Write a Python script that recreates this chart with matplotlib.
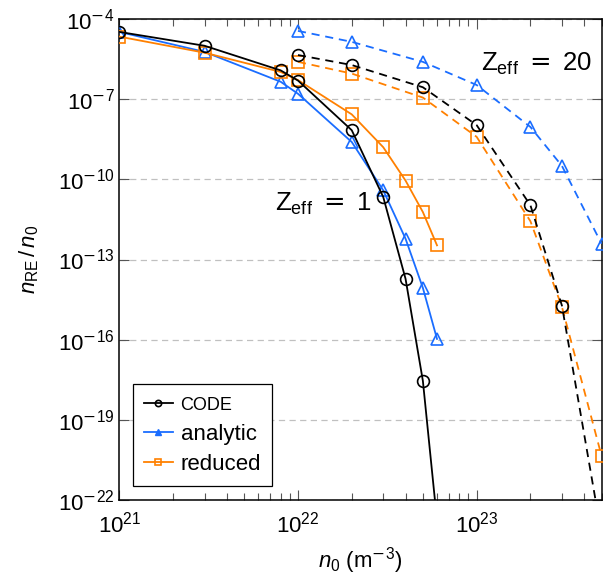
import matplotlib
matplotlib.use("Agg")
import matplotlib.pyplot as plt
import numpy as np
from matplotlib.lines import Line2D
from matplotlib.ticker import FixedLocator, FuncFormatter, LogLocator, NullFormatter, NullLocator

plt.rcParams["font.family"] = "Liberation Sans"
plt.rcParams["mathtext.fontset"] = "custom"
plt.rcParams["mathtext.rm"] = "Liberation Sans"
plt.rcParams["mathtext.it"] = "Liberation Sans:italic"
plt.rcParams["mathtext.bf"] = "Liberation Sans:bold"
# sinais de menos e igual mais largos (estilo TeX)
plt.rcParams["mathtext.cal"] = "DejaVu Sans"

# ------------------------------------------------------------------ dados
# Z_eff = 1 (linhas cheias)
n0_z1 = [1e21, 3e21, 8e21, 1e22, 2e22, 3e22, 4e22, 5e22, 6e22]
code_z1 = [3.3e-5, 1.0e-5, 1.2e-6, 5.0e-7, 6.9e-9, 2.2e-11, 1.9e-14, 2.9e-18, 1.7e-23]
analytic_z1 = [3.3e-5, 5.9e-6, 4.5e-7, 1.6e-7, 2.5e-9, 3.9e-11, 6.0e-13, 8.7e-15, 1.07e-16]
reduced_z1 = [2.2e-5, 5.5e-6, 1.05e-6, 5.2e-7, 2.7e-8, 1.6e-9, 9.0e-11, 6.0e-12, 3.4e-13]

# Z_eff = 20 (linhas tracejadas)
n0_z20 = [1e22, 2e22, 5e22, 1e23, 2e23, 3e23, 5e23]
code_z20 = [4.5e-6, 1.9e-6, 2.8e-7, 1.07e-8, 1.07e-11, 1.9e-15, 5e-24]
analytic_z20 = [3.6e-5, 1.4e-5, 2.5e-6, 3.4e-7, 9.1e-9, 3.2e-10, 3.9e-13]
reduced_z20 = [2.5e-6, 9.1e-7, 1.15e-7, 3.9e-9, 2.7e-12, 1.7e-15, 4.5e-21]

y_ticks = [1e-22, 1e-19, 1e-16, 1e-13, 1e-10, 1e-7, 1e-4]

PRETO = "black"
AZUL = "#1a6dff"
LARANJA = "#ff8000"
TRACO = (0, (4.5, 3.2))


def potencia(v, pos):
    e = int(round(np.log10(v)))
    if e < 0:
        return r"$10^{\mathcal{-}%d}$" % (-e)
    return r"$10^{%d}$" % e


fig = plt.figure(figsize=(6.03, 5.77), dpi=100)
ax = fig.add_axes([0.1978, 0.1334, 0.7998, 0.8336])

estilo = dict(lw=1.3, ms=8.5, mew=1.2, mfc="none", clip_on=True)
ax.plot(n0_z1, code_z1, "-o", color=PRETO, zorder=4, **estilo)
ax.plot(n0_z1, analytic_z1, "-^", color=AZUL, zorder=3, **estilo)
ax.plot(n0_z1, reduced_z1, "-s", color=LARANJA, zorder=3, **estilo)

ax.plot(n0_z20, code_z20, "o", ls=TRACO, color=PRETO, zorder=4, **estilo)
ax.plot(n0_z20, analytic_z20, "^", ls=TRACO, color=AZUL, zorder=3, **estilo)
ax.plot(n0_z20, reduced_z20, "s", ls=TRACO, color=LARANJA, zorder=3, **estilo)

ax.set_xscale("log")
ax.set_yscale("log")
ax.set_xlim(1e21, 5e23)
ax.set_ylim(1e-22, 1e-4)

ax.yaxis.set_major_locator(FixedLocator(y_ticks))
ax.yaxis.set_minor_locator(NullLocator())
ax.yaxis.set_major_formatter(FuncFormatter(potencia))
ax.xaxis.set_major_formatter(FuncFormatter(potencia))
ax.xaxis.set_minor_locator(LogLocator(base=10.0, subs=range(2, 10), numticks=20))
ax.xaxis.set_minor_formatter(NullFormatter())

ax.tick_params(which="both", direction="in", top=True, right=True,
               labelsize=16, width=0.8, color="#555555")
ax.tick_params(which="major", length=7)
ax.tick_params(which="minor", length=4.8)
ax.tick_params(axis="x", pad=8)
for s in ax.spines.values():
    s.set_linewidth(1.1)

ax.yaxis.grid(True, which="major", ls=(0, (5, 3.5)), color="#c0c0c0", lw=0.9)
ax.set_axisbelow(True)

ax.set_xlabel(r"$n_0$ (m$^{\mathcal{-}3}$)", fontsize=16, labelpad=6)
ax.set_ylabel(r"$n_{\rm RE}\,/\,n_0$", fontsize=16, labelpad=12)

ax.text(10**21.87, 10**-10.9, r"Z$_{\rm eff}$ $\mathcal{=}$ 1", fontsize=18.5, ha="left", va="center")
ax.text(10**23.025, 10**-5.69, r"Z$_{\rm eff}$ $\mathcal{=}$ 20", fontsize=18.5, ha="left", va="center")

# legenda com marcadores menores que os do gráfico
alcas = [
    Line2D([], [], color=PRETO, marker="o", ms=4.5, mfc="none", mew=1.2, lw=1.3),
    Line2D([], [], color=AZUL, marker="^", ms=5, mfc=AZUL, mew=1.0, lw=1.3),
    Line2D([], [], color=LARANJA, marker="s", ms=4.5, mfc="none", mew=1.2, lw=1.3),
]
leg = ax.legend(alcas, ["CODE", "analytic", "reduced"], loc="lower left",
                bbox_to_anchor=(0.028, 0.029), borderaxespad=0, fontsize=16,
                handlelength=1.3, handletextpad=0.35, labelspacing=0.42,
                borderpad=0.5, fancybox=False, framealpha=1)
leg.get_frame().set_edgecolor("black")
leg.get_frame().set_linewidth(0.9)
leg.get_texts()[0].set_fontsize(13)

fig.savefig("out.png", dpi=100)
